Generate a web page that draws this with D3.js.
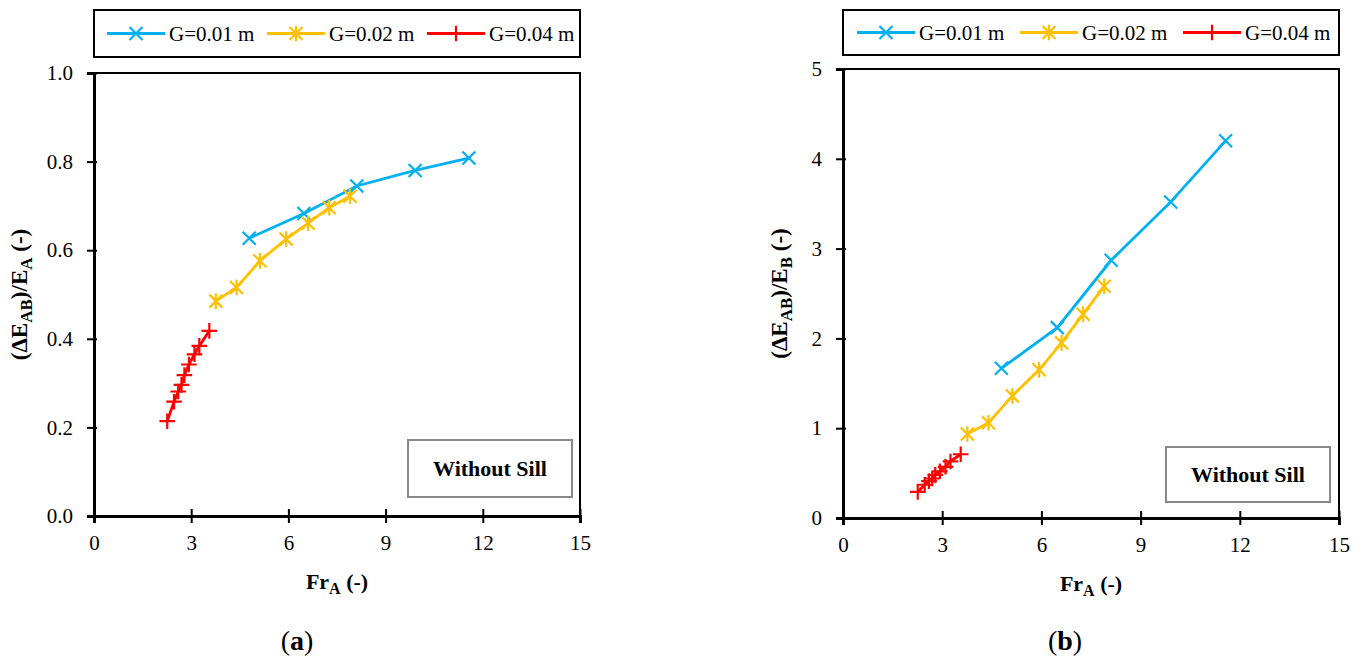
<!DOCTYPE html>
<html><head><meta charset="utf-8">
<script src="https://cdn.jsdelivr.net/npm/d3@7"></script>
<style>body{margin:0;background:#fff}svg{display:block}</style>
</head><body>
<script>
// ---- data ----
const seriesNames = ["G=0.01 m", "G=0.02 m", "G=0.04 m"];
const seriesColors = ["#00B0F0", "#FFC000", "#FF0000"];
const seriesMarkers = ["x", "star", "plus"];
const frA_G001 = [4.79, 6.48, 8.11, 9.91, 11.57];
const frA_G002 = [3.76, 4.40, 5.12, 5.93, 6.61, 7.26, 7.90];
const frA_G004 = [2.26, 2.47, 2.60, 2.70, 2.79, 2.93, 3.10, 3.25, 3.56];
const a_G001 = [0.627, 0.683, 0.745, 0.780, 0.808];
const a_G002 = [0.485, 0.516, 0.576, 0.625, 0.661, 0.696, 0.722];
const a_G004 = [0.214, 0.258, 0.281, 0.296, 0.318, 0.342, 0.365, 0.384, 0.418];
const b_G001 = [1.667, 2.12, 2.87, 3.52, 4.20];
const b_G002 = [0.935, 1.06, 1.36, 1.65, 1.95, 2.27, 2.58];
const b_G004 = [0.29, 0.37, 0.41, 0.44, 0.48, 0.52, 0.57, 0.63, 0.71];
const xTicks = [0, 3, 6, 9, 12, 15];
const yTicksA = [0, 0.2, 0.4, 0.6, 0.8, 1.0];
const yTicksB = [0, 1, 2, 3, 4, 5];
const boxLabel = "Without Sill";

const svg = d3.select("body").append("svg").attr("width", 1363).attr("height", 661);
const FONT = "'Liberation Serif', 'Times New Roman', serif";

function marker(g, type, cx, cy, color, s) {
  const p = d3.path();
  if (type === "x" || type === "star") {
    p.moveTo(cx - s, cy - s); p.lineTo(cx + s, cy + s);
    p.moveTo(cx - s, cy + s); p.lineTo(cx + s, cy - s);
  }
  if (type === "star") { p.moveTo(cx, cy - s * 1.2); p.lineTo(cx, cy + s * 1.2); }
  if (type === "plus") {
    p.moveTo(cx - s * 1.2, cy); p.lineTo(cx + s * 1.2, cy);
    p.moveTo(cx, cy - s * 1.2); p.lineTo(cx, cy + s * 1.2);
  }
  g.append("path").attr("d", p.toString()).attr("stroke", color).attr("stroke-width", 2.2).attr("fill", "none");
}

function panel(cfg) {
  const x = d3.scaleLinear().domain([0, 15]).range([cfg.x0, cfg.x1]);
  const y = d3.scaleLinear().domain([0, cfg.ymax]).range([cfg.y0, cfg.y1]);
  const g = svg.append("g");

  // frame (top/right)
  g.append("path").attr("d", `M${cfg.x0},${cfg.y1}H${cfg.x1}V${cfg.y0}`)
    .attr("stroke", "#000").attr("stroke-width", 2).attr("fill", "none");

  // x axis
  const xa = g.append("g").attr("transform", `translate(0,${cfg.y0})`)
    .call(d3.axisBottom(x).tickValues(xTicks).tickFormat(d3.format("d")).tickSize(7).tickPadding(12));
  xa.select(".domain").attr("stroke-width", 3);
  xa.selectAll(".tick line").attr("y1", -7).attr("stroke-width", 2);
  xa.selectAll("text").attr("font-family", FONT).attr("font-size", 21).attr("fill", "#000");

  // y axis
  const ya = g.append("g").attr("transform", `translate(${cfg.x0},0)`)
    .call(d3.axisLeft(y).tickValues(cfg.yTicks).tickFormat(cfg.fmt).tickSize(7).tickPadding(14));
  ya.select(".domain").attr("stroke-width", 3);
  ya.selectAll(".tick line").attr("x1", 3).attr("stroke-width", 2);
  ya.selectAll("text").attr("font-family", FONT).attr("font-size", 21).attr("fill", "#000");

  // series
  const line = d3.line().x(d => x(d[0])).y(d => y(d[1]));
  cfg.series.forEach((s, i) => {
    const pts = s.xs.map((v, k) => [v, s.ys[k]]);
    g.append("path").datum(pts).attr("d", line).attr("stroke", seriesColors[i])
      .attr("stroke-width", 2.8).attr("fill", "none");
    pts.forEach(p => marker(g, seriesMarkers[i], x(p[0]), y(p[1]), seriesColors[i], 6.5));
  });

  // "Without Sill" box
  g.append("rect").attr("x", cfg.box[0]).attr("y", cfg.box[1]).attr("width", cfg.box[2]).attr("height", cfg.box[3])
    .attr("fill", "#fff").attr("stroke", "#888").attr("stroke-width", 2);
  g.append("text").attr("x", cfg.box[0] + cfg.box[2] / 2).attr("y", cfg.box[1] + cfg.box[3] / 2 + 7)
    .attr("text-anchor", "middle").attr("font-family", FONT).attr("font-weight", "bold").attr("font-size", 22)
    .text(boxLabel);

  // legend
  const L = cfg.legend;
  g.append("rect").attr("x", L.x).attr("y", L.y).attr("width", L.w).attr("height", L.h)
    .attr("fill", "#fff").attr("stroke", "#000").attr("stroke-width", 2);
  L.items.forEach((lx, i) => {
    const cy = L.y + L.h / 2;
    g.append("line").attr("x1", lx).attr("x2", lx + 58).attr("y1", cy).attr("y2", cy)
      .attr("stroke", seriesColors[i]).attr("stroke-width", 2.8);
    marker(g, seriesMarkers[i], lx + 29, cy, seriesColors[i], 6.5);
    g.append("text").attr("x", lx + 62).attr("y", cy + 7).attr("font-family", FONT).attr("font-size", 21)
      .text(seriesNames[i]);
  });

  // x title
  const xt = g.append("text").attr("x", (cfg.x0 + cfg.x1) / 2).attr("y", cfg.y0 + 73)
    .attr("text-anchor", "middle").attr("font-family", FONT).attr("font-weight", "bold").attr("font-size", 22);
  xt.append("tspan").text("Fr");
  xt.append("tspan").attr("font-size", 16).attr("dy", 5).text("A");
  xt.append("tspan").attr("dy", -5).text(" (-)");

  // y title
  const yt = g.append("text").attr("transform", `translate(${cfg.ytx},${(cfg.y0 + cfg.y1) / 2}) rotate(-90)`)
    .attr("text-anchor", "middle").attr("font-family", FONT).attr("font-weight", "bold").attr("font-size", 23);
  yt.append("tspan").text("(ΔE");
  yt.append("tspan").attr("font-size", 17).attr("dy", 5).text("AB");
  yt.append("tspan").attr("dy", -5).text(")/E");
  yt.append("tspan").attr("font-size", 17).attr("dy", 5).text(cfg.ysub);
  yt.append("tspan").attr("dy", -5).text(" (-)");

  // panel label
  const pl = svg.append("text").attr("x", cfg.labelX).attr("y", 650).attr("text-anchor", "middle")
    .attr("font-family", FONT).attr("font-size", 28);
  pl.append("tspan").text("(");
  pl.append("tspan").attr("font-weight", "bold").text(cfg.label);
  pl.append("tspan").text(")");
}

panel({
  x0: 94, x1: 580, y0: 516, y1: 73, ymax: 1, yTicks: yTicksA, fmt: d3.format(".1f"),
  series: [{xs: frA_G001, ys: a_G001}, {xs: frA_G002, ys: a_G002}, {xs: frA_G004, ys: a_G004}],
  box: [408, 440, 164, 57],
  legend: {x: 94, y: 10, w: 486, h: 47, items: [107, 267, 427]},
  ytx: 27, ysub: "A", label: "a", labelX: 297
});
panel({
  x0: 843, x1: 1339, y0: 518, y1: 69, ymax: 5, yTicks: yTicksB, fmt: d3.format("d"),
  series: [{xs: frA_G001, ys: b_G001}, {xs: frA_G002, ys: b_G002}, {xs: frA_G004, ys: b_G004}],
  box: [1166, 447, 164, 55],
  legend: {x: 843, y: 10, w: 496, h: 45, items: [857, 1020, 1183]},
  ytx: 787, ysub: "B", label: "b", labelX: 1065
});
</script>
</body></html>
